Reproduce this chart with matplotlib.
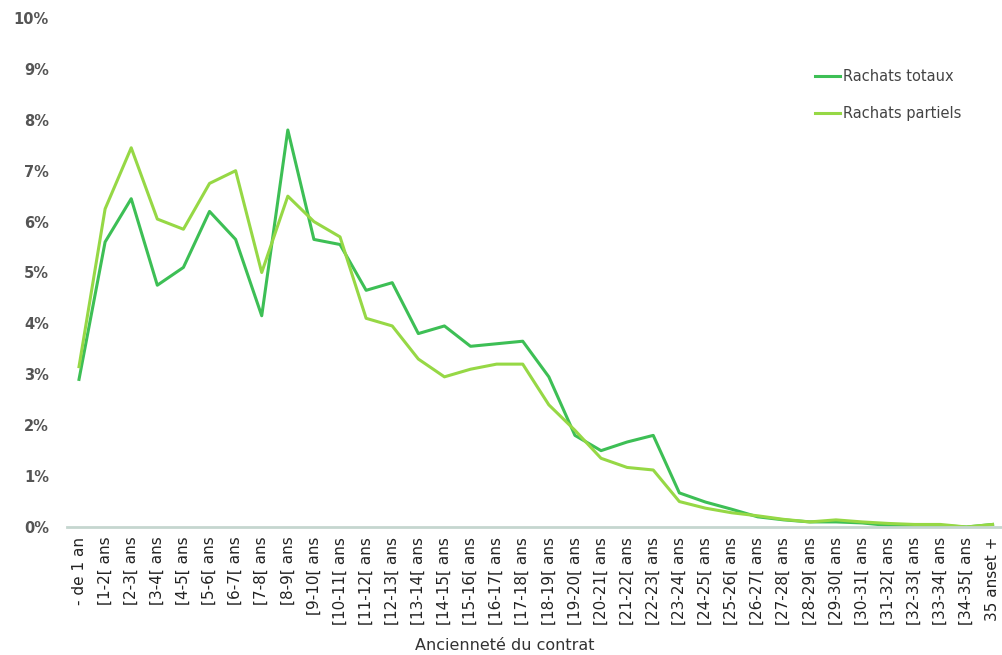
import matplotlib
matplotlib.use('Agg')
import matplotlib.pyplot as plt
from matplotlib.ticker import FuncFormatter

# categories
categories = ['- de 1 an'] + ['[%d-%d[ ans' % (i, i + 1) for i in range(1, 35)] + ['35 anset +']

# values in %
totaux = [2.9, 5.6, 6.45, 4.75, 5.1, 6.2, 5.65, 4.15, 7.8, 5.65,
          5.55, 4.65, 4.8, 3.8, 3.95, 3.55, 3.6, 3.65, 2.95, 1.8,
          1.5, 1.67, 1.8, 0.67, 0.49, 0.35, 0.2, 0.14, 0.1, 0.1,
          0.08, 0.03, 0.03, 0.03, 0.0, 0.05]
partiels = [3.15, 6.25, 7.45, 6.05, 5.85, 6.75, 7.0, 5.0, 6.5, 6.0,
            5.7, 4.1, 3.95, 3.3, 2.95, 3.1, 3.2, 3.2, 2.4, 1.9,
            1.35, 1.17, 1.12, 0.5, 0.37, 0.28, 0.22, 0.15, 0.1, 0.14,
            0.1, 0.07, 0.05, 0.05, 0.0, 0.05]

fig = plt.figure(figsize=(10.03, 6.55), dpi=100)
W, H = 1003, 655
ax = fig.add_axes([67 / W, (H - 527) / H, (1003 - 67) / W, (527 - 18) / H])

x = list(range(len(categories)))
ax.plot(x, totaux, color='#3dbf55', lw=2.2, label='Rachats totaux')
ax.plot(x, partiels, color='#96d845', lw=2.2, label='Rachats partiels')

ax.set_xlim(-0.46, 35.4)
ax.set_ylim(0, 10)
ax.set_yticks(range(0, 11))
ax.yaxis.set_major_formatter(FuncFormatter(lambda v, p: '%d%%' % v))
ax.set_xticks(x)
ax.set_xticklabels(categories, rotation=90, fontsize=11, color='#222222')

for s in ['top', 'right', 'left']:
    ax.spines[s].set_visible(False)
ax.spines['bottom'].set_color('#c5d6cf')
ax.spines['bottom'].set_linewidth(2)
ax.tick_params(axis='both', length=0)
ax.tick_params(axis='y', pad=13, labelsize=10.5, labelcolor='#555555')
for t in ax.get_yticklabels():
    t.set_fontweight('bold')
ax.tick_params(axis='x', pad=7)

ax.set_xlabel('Ancienneté du contrat', fontsize=11.5, color='#333333')
ax.xaxis.set_label_coords((505 - 67) / 936, -(645 - 527) / 509, transform=ax.transAxes)
ax.xaxis.label.set_va('center')

leg = ax.legend(loc='upper left', bbox_to_anchor=(735 / 936, 0.925), frameon=False,
                fontsize=10.5, handlelength=1.7, handletextpad=0.2, labelspacing=1.5)
for t in leg.get_texts():
    t.set_color('#444444')

fig.savefig('out.png', dpi=100)
